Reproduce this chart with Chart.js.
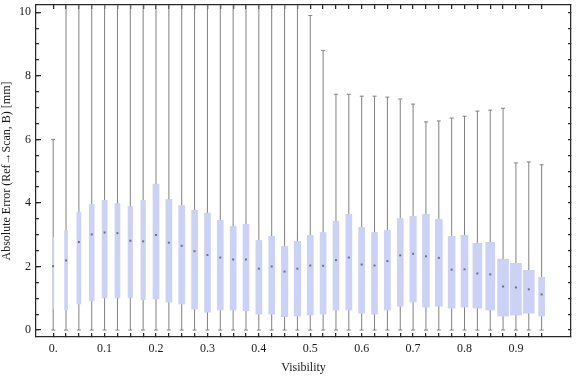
<!DOCTYPE html>
<html>
<head>
<meta charset="utf-8">
<script src="https://cdn.jsdelivr.net/npm/chart.js@4.4.1/dist/chart.umd.min.js"></script>
<style>
  html, body { margin: 0; padding: 0; background: #ffffff; }
  #wrap { width: 576px; height: 377px; position: relative; }
</style>
</head>
<body>
<div id="wrap"><canvas id="c" width="576" height="377"></canvas></div>
<script>
// ---- data ----
const visibility = [0, 0.025, 0.05, 0.075, 0.1, 0.125, 0.15, 0.175, 0.2, 0.225,
  0.25, 0.275, 0.3, 0.325, 0.35, 0.375, 0.4, 0.425, 0.45, 0.475,
  0.5, 0.525, 0.55, 0.575, 0.6, 0.625, 0.65, 0.675, 0.7, 0.725,
  0.75, 0.775, 0.8, 0.825, 0.85, 0.875, 0.9, 0.925, 0.95];
const whiskerLow = [0, 0, 0, 0, 0, 0, 0, 0, 0, 0,
  0, 0, 0, 0, 0, 0, 0, 0, 0, 0,
  0, 0, 0, 0, 0, 0, 0, 0, 0, 0,
  0, 0, 0, 0, 0, 0, 0, 0, 0];
const whiskerHigh = [6.0, 12, 12, 12, 12, 12, 12, 12, 12, 12,
  12, 12, 12, 12, 12, 12, 12, 12, 12, 12,
  9.9, 8.8, 7.42, 7.42, 7.36, 7.36, 7.33, 7.27, 7.11, 6.55,
  6.58, 6.67, 6.73, 6.89, 6.92, 6.98, 5.26, 5.29, 5.2];
const q1 = [0.68, 0.63, 0.82, 0.92, 1.01, 1.01, 1.01, 0.95, 0.98, 0.88,
  0.82, 0.66, 0.56, 0.63, 0.63, 0.61, 0.50, 0.50, 0.42, 0.44,
  0.47, 0.50, 0.63, 0.63, 0.53, 0.50, 0.63, 0.75, 0.88, 0.72,
  0.75, 0.69, 0.72, 0.69, 0.63, 0.44, 0.47, 0.53, 0.44];
const q3 = [2.91, 3.14, 3.71, 3.95, 4.08, 3.98, 3.89, 4.08, 4.59, 4.11,
  3.92, 3.77, 3.68, 3.45, 3.26, 3.33, 2.82, 2.95, 2.63, 2.79,
  2.98, 3.07, 3.42, 3.64, 3.23, 3.07, 3.14, 3.51, 3.58, 3.64,
  3.48, 2.95, 2.98, 2.73, 2.76, 2.23, 2.10, 1.88, 1.66];
const median = [2.01, 2.19, 2.77, 3.01, 3.07, 3.05, 2.81, 2.79, 2.99, 2.75,
  2.65, 2.48, 2.36, 2.28, 2.22, 2.22, 1.93, 2.00, 1.84, 1.93,
  2.03, 2.02, 2.20, 2.28, 2.06, 2.03, 2.17, 2.35, 2.40, 2.32,
  2.27, 1.90, 1.91, 1.78, 1.75, 1.37, 1.34, 1.28, 1.12];
const xTickValues = [0, 0.1, 0.2, 0.3, 0.4, 0.5, 0.6, 0.7, 0.8, 0.9];
const xTickLabels = ['0.', '0.1', '0.2', '0.3', '0.4', '0.5', '0.6', '0.7', '0.8', '0.9'];
const yTickValues = [0, 2, 4, 6, 8, 10];
const yTickLabels = ['0', '2', '4', '6', '8', '10'];
const yMinorValues = [0, 0.5, 1, 1.5, 2, 2.5, 3, 3.5, 4, 4.5, 5, 5.5, 6, 6.5, 7, 7.5, 8, 8.5, 9, 9.5, 10];

// ---- styles ----
const boxWidthPx = [1.2, 3, 4, 5, 5, 5, 4.5, 4.5, 6, 6, 6, 6, 6, 6, 6, 6, 6, 6, 6.5, 6.5,
  6, 6, 6, 6, 6, 6, 6, 6, 6.5, 7, 7, 7, 7, 9, 9, 11, 11, 11, 6];
const BOX_COLOR = 'rgb(204,210,245)';
const WHISKER_COLOR = 'rgb(128,128,128)';
const MEDIAN_COLOR = 'rgb(110,110,120)';
const TEXT_COLOR = '#1a1a1a';
const FRAME_COLOR = 'rgb(40,40,40)';
const FRAME_W = 1.25;
const FONT = 'Liberation Serif';
const X_MIN = -0.0334, X_MAX = 1.0071, Y_MIN = -0.2196, Y_MAX = 10.229;

const widthGroups = {};
visibility.forEach((v, i) => {
  const w = boxWidthPx[i];
  (widthGroups[w] = widthGroups[w] || []).push({ x: v, y: [q1[i], q3[i]] });
});
const boxDatasets = Object.keys(widthGroups).map(w => ({
  type: 'bar',
  data: widthGroups[w],
  backgroundColor: BOX_COLOR,
  borderWidth: 0,
  barThickness: parseFloat(w),
  grouped: false,
  order: 2
}));

const whiskerData = [];
visibility.forEach((v, i) => {
  whiskerData.push({ x: v, y: whiskerLow[i] });
  whiskerData.push({ x: v, y: whiskerHigh[i] });
  whiskerData.push({ x: v, y: null });
});
const capData = [];
visibility.forEach((v, i) => {
  capData.push({ x: v, y: whiskerLow[i] });
  capData.push({ x: v, y: whiskerHigh[i] });
});
const medianData = visibility.map((v, i) => ({ x: v, y: median[i] }));

const labelFor = (values, labels) => (v) => {
  const k = values.findIndex(t => Math.abs(t - v) < 1e-9);
  return k >= 0 ? labels[k] : '';
};
const frameBorder = () => ({ display: true, color: FRAME_COLOR, width: FRAME_W });
const tickGrid = (len) => ({
  display: true, drawOnChartArea: false, drawTicks: true,
  tickLength: -len, color: FRAME_COLOR, tickColor: FRAME_COLOR, tickWidth: FRAME_W, lineWidth: FRAME_W, offset: false
});
const noPad = (scale) => {
  scale.paddingTop = 0; scale.paddingBottom = 0; scale.paddingLeft = 0; scale.paddingRight = 0;
};

new Chart(document.getElementById('c'), {
  type: 'bar',
  data: {
    datasets: [
      {
        type: 'line',
        data: whiskerData,
        borderColor: WHISKER_COLOR,
        borderWidth: 1,
        pointRadius: 0,
        spanGaps: false,
        fill: false,
        order: 3
      },
      ...boxDatasets,
      {
        type: 'scatter',
        data: capData,
        pointStyle: 'line',
        pointRadius: 2,
        borderColor: WHISKER_COLOR,
        borderWidth: 1,
        order: 1
      },
      {
        type: 'scatter',
        data: medianData,
        pointStyle: 'rect',
        pointRadius: 1.4,
        backgroundColor: MEDIAN_COLOR,
        borderWidth: 0,
        order: 0
      }
    ]
  },
  options: {
    responsive: false,
    animation: false,
    layout: { padding: { top: 4, right: 1, left: 0, bottom: 0 } },
    plugins: { legend: { display: false }, tooltip: { enabled: false } },
    scales: {
      x: {
        type: 'linear',
        position: 'bottom',
        offset: false,
        min: X_MIN, max: X_MAX,
        grid: tickGrid(4),
        border: frameBorder(),
        afterBuildTicks(scale) { scale.ticks = visibility.map(v => ({ value: v })); },
        afterFit(scale) { scale.height = 40; noPad(scale); },
        ticks: {
          autoSkip: false,
          maxRotation: 0,
          padding: 9,
          color: TEXT_COLOR,
          font: { family: FONT, size: 12 },
          callback: labelFor(xTickValues, xTickLabels)
        },
        title: {
          display: true,
          text: 'Visibility',
          color: TEXT_COLOR,
          font: { family: FONT, size: 12 },
          padding: { top: 0, bottom: 2 }
        }
      },
      x2: {
        type: 'linear',
        axis: 'x',
        position: 'top',
        offset: false,
        min: X_MIN, max: X_MAX,
        grid: tickGrid(4),
        border: frameBorder(),
        afterBuildTicks(scale) { scale.ticks = visibility.map(v => ({ value: v })); },
        afterFit(scale) { scale.height = 0; noPad(scale); },
        ticks: { display: false }
      },
      y: {
        type: 'linear',
        position: 'left',
        weight: 1,
        min: Y_MIN, max: Y_MAX,
        grid: tickGrid(5),
        border: frameBorder(),
        afterBuildTicks(scale) { scale.ticks = yTickValues.map(v => ({ value: v })); },
        afterFit(scale) { scale.width = 36; noPad(scale); },
        ticks: {
          autoSkip: false,
          padding: 10,
          color: TEXT_COLOR,
          font: { family: FONT, size: 12 },
          callback: labelFor(yTickValues, yTickLabels)
        },
        title: {
          display: true,
          text: 'Absolute Error (Ref→Scan, B) [mm]',
          color: TEXT_COLOR,
          font: { family: FONT, size: 12 },
          padding: { top: 0, bottom: 0 }
        }
      },
      yMinor: {
        type: 'linear',
        axis: 'y',
        position: 'left',
        weight: 0,
        min: Y_MIN, max: Y_MAX,
        grid: tickGrid(3),
        border: { display: false },
        afterBuildTicks(scale) { scale.ticks = yMinorValues.map(v => ({ value: v })); },
        afterFit(scale) { scale.width = 0; noPad(scale); },
        ticks: { display: false }
      },
      y2: {
        type: 'linear',
        axis: 'y',
        position: 'right',
        min: Y_MIN, max: Y_MAX,
        grid: tickGrid(3),
        border: frameBorder(),
        afterBuildTicks(scale) { scale.ticks = yMinorValues.map(v => ({ value: v })); },
        afterFit(scale) { scale.width = 0; noPad(scale); },
        ticks: { display: false }
      }
    }
  }
});
</script>
</body>
</html>
